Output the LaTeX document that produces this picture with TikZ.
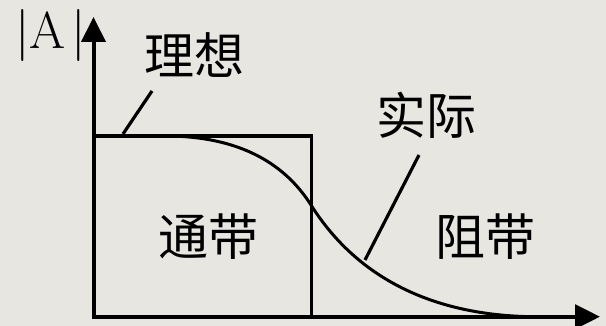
\documentclass[tikz,border=0pt]{standalone}
\usepackage{fontspec}
\newfontfamily\cjk{Noto Sans CJK SC}
\usetikzlibrary{arrows.meta}
\definecolor{bg}{RGB}{231,230,225}
\begin{document}
\begin{tikzpicture}[x=1pt,y=1pt,
  axis/.style={line width=4pt,-{Triangle[length=25pt,width=24pt]}},
  thick line/.style={line width=3.5pt},
  pointer/.style={line width=3.2pt},
  cjklabel/.style={inner sep=0pt,font=\cjk\fontsize{50}{50}\selectfont},
  alabel/.style={inner sep=0pt,font=\fontsize{52}{52}\selectfont}]
\fill[bg] (0,0) rectangle (606,326);
\useasboundingbox (0,0) rectangle (606,326);
% axes
\coordinate (O) at (93.5,9.3);
\coordinate (Ostart) at (93.5,7.3);
\coordinate (Ytip) at (93.5,309);
\coordinate (Xtip) at (600,9.3);
\draw[axis] (Ostart) -- (Ytip);
\draw[axis] (O) -- (Xtip);
% ideal response
\coordinate (I1) at (93.5,190);
\coordinate (I2) at (311.5,190);
\coordinate (I3) at (311.5,9.3);
\draw[thick line] (I1) -- (I2) -- (I3);
% actual response
\coordinate (C0) at (165,190);
\coordinate (C1) at (311,121);
\coordinate (C2) at (530,9.3);
\draw[thick line,line width=3pt] (I1) -- (C0) .. controls (250,190) and (290,154) .. (C1) .. controls (340,75) and (400,12) .. (C2);
% labels
\node[alabel] (A) at (50.5,290.5) {|A\kern5pt|};
\node[cjklabel] (ideal) at (194.5,270.5) {理想};
\node[cjklabel] (real) at (426,211) {实际};
\node[cjklabel] (pass) at (208,89) {通带};
\node[cjklabel] (stop) at (485,89) {阻带};
% pointers
\coordinate (Pi0) at (123,192);
\coordinate (Pi1) at (152,235);
\coordinate (Pr0) at (419,171);
\coordinate (Pr1) at (365,66);
\draw[pointer] (Pi0) -- (Pi1);
\draw[pointer] (Pr0) -- (Pr1);
\end{tikzpicture}
\end{document}
